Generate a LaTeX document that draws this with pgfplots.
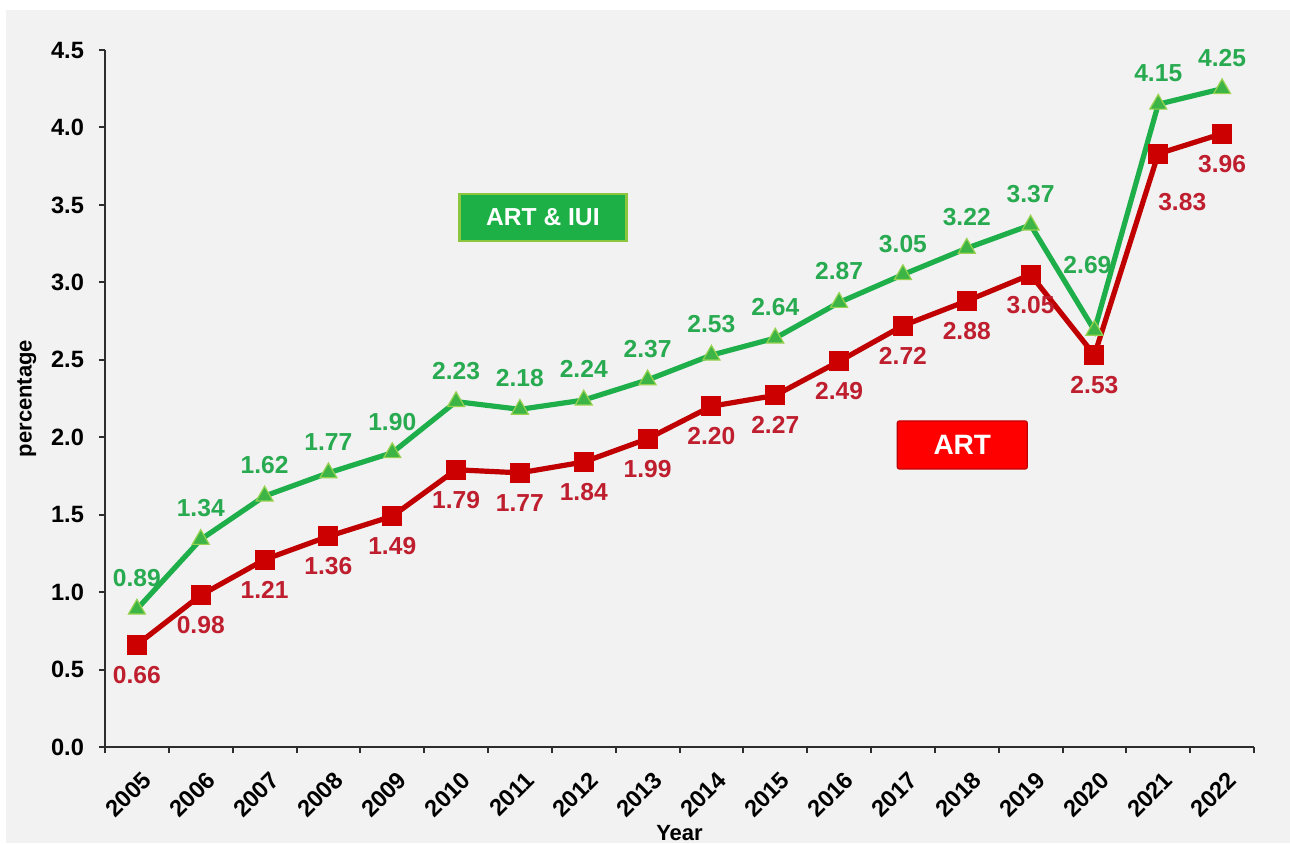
\documentclass[border=0pt]{standalone}
\usepackage{fontspec}
\setmainfont{Liberation Sans}
\usepackage{pgfplots}
\pgfplotsset{compat=1.18}
\definecolor{bgc}{RGB}{242,242,242}
\definecolor{axc}{RGB}{45,45,45}
\definecolor{gline}{RGB}{30,175,75}
\definecolor{gmark}{RGB}{60,180,70}
\definecolor{gedge}{RGB}{150,210,80}
\definecolor{gtext}{RGB}{40,170,80}
\definecolor{rline}{RGB}{192,0,0}
\definecolor{rmark}{RGB}{204,0,0}
\definecolor{rtext}{RGB}{190,30,45}
\definecolor{gbox}{RGB}{29,176,70}
\definecolor{gboxe}{RGB}{140,198,63}
\begin{document}
\begin{tikzpicture}
\fill[bgc] (-49.5pt,368.5pt) rectangle (592.5pt,-48pt);
\begin{axis}[
  at={(0pt,0pt)}, anchor=south west,
  scale only axis, width=574.5pt, height=348.5pt,
  xmin=-0.5, xmax=17.5, ymin=0, ymax=4.5,
  clip=false,
  axis x line*=bottom, axis y line*=left,
  axis line style={-, draw=axc, line width=1pt},
  xtick={0,...,17},
  xticklabels={2005,2006,2007,2008,2009,2010,2011,2012,2013,2014,2015,2016,2017,2018,2019,2020,2021,2022},
  minor xtick={-0.5,0.5,...,17.5},
  ytick={0,0.5,...,4.5},
  tick align=outside,
  major tick length=3pt, minor tick length=3pt,
  tick style={draw=axc, line width=1pt},
  major x tick style={draw=none},
  /pgf/number format/assume math mode=true,
  tick label style={font=\fontsize{11.8}{13}\selectfont\bfseries, text=black},
  y tick label style={/pgf/number format/fixed, /pgf/number format/fixed zerofill, /pgf/number format/precision=1, xshift=-4pt},
  x tick label style={rotate=45, anchor=north east, xshift=-1pt, yshift=-4pt},
  ylabel={percentage},
  ylabel style={font=\fontsize{11}{13}\selectfont\bfseries, at={(axis description cs:-0.068,0.5)}, anchor=center},
  xlabel={Year},
  xlabel style={font=\fontsize{11}{13}\selectfont\bfseries, at={(axis description cs:0.5,-0.124)}, anchor=center},
]
\addplot[rline, line width=2.6pt, mark=square*, mark size=4.75pt,
  mark options={fill=rmark, draw=rmark, line width=0.5pt}]
  coordinates {(0,0.66)(1,0.98)(2,1.21)(3,1.36)(4,1.49)(5,1.79)(6,1.77)(7,1.84)(8,1.99)(9,2.20)(10,2.27)(11,2.49)(12,2.72)(13,2.88)(14,3.05)(15,2.53)(16,3.83)(17,3.96)};
\addplot[gline, line width=2.6pt, mark=triangle*, mark size=4.9pt,
  mark options={fill=gmark, draw=gedge, line width=0.6pt}]
  coordinates {(0,0.89)(1,1.34)(2,1.62)(3,1.77)(4,1.90)(5,2.23)(6,2.18)(7,2.24)(8,2.37)(9,2.53)(10,2.64)(11,2.87)(12,3.05)(13,3.22)(14,3.37)(15,2.69)(16,4.15)(17,4.25)};
% green labels
\addplot[draw=none, mark=none, point meta=explicit symbolic, nodes near coords,
  nodes near coords style={anchor=center, yshift=15.5pt, text=gtext, font=\fontsize{12.3}{14}\selectfont\bfseries}]
  coordinates {(0,0.89)[0.89](1,1.34)[1.34](2,1.62)[1.62](3,1.77)[1.77](4,1.90)[1.90](5,2.23)[2.23](6,2.18)[2.18](7,2.24)[2.24](8,2.37)[2.37](9,2.53)[2.53](10,2.64)[2.64](11,2.87)[2.87](12,3.05)[3.05](13,3.22)[3.22](14,3.37)[3.37](16,4.15)[4.15](17,4.25)[4.25]};
\addplot[draw=none, mark=none, point meta=explicit symbolic, nodes near coords,
  nodes near coords style={anchor=center, xshift=-3.5pt, yshift=32.5pt, text=gtext, font=\fontsize{12.3}{14}\selectfont\bfseries}]
  coordinates {(15,2.69)[2.69]};
% red labels
\addplot[draw=none, mark=none, point meta=explicit symbolic, nodes near coords,
  nodes near coords style={anchor=center, yshift=-15pt, text=rtext, font=\fontsize{12.3}{14}\selectfont\bfseries}]
  coordinates {(0,0.66)[0.66](1,0.98)[0.98](2,1.21)[1.21](3,1.36)[1.36](4,1.49)[1.49](5,1.79)[1.79](6,1.77)[1.77](7,1.84)[1.84](8,1.99)[1.99](9,2.20)[2.20](10,2.27)[2.27](11,2.49)[2.49](12,2.72)[2.72](13,2.88)[2.88](14,3.05)[3.05](15,2.53)[2.53](17,3.96)[3.96]};
\addplot[draw=none, mark=none, point meta=explicit symbolic, nodes near coords,
  nodes near coords style={anchor=center, xshift=12pt, yshift=-24pt, text=rtext, font=\fontsize{12.3}{14}\selectfont\bfseries}]
  coordinates {(16,3.83)[3.83]};
\node[fill=gbox, draw=gboxe, line width=1.2pt, minimum width=83.5pt, minimum height=23.5pt,
  text=white, font=\fontsize{12.3}{14}\selectfont\bfseries] at (axis cs:6.36,3.42) {ART \& IUI};
\node[fill=red, draw=rline, line width=0.6pt, rounded corners=1pt, minimum width=65pt, minimum height=24pt,
  text=white, font=\fontsize{14}{16}\selectfont\bfseries] at (axis cs:12.93,1.95) {ART};
\end{axis}
\pgfresetboundingbox
\useasboundingbox (-52.5pt,-48pt) rectangle (592.5pt,373.5pt);
\end{tikzpicture}
\end{document}
